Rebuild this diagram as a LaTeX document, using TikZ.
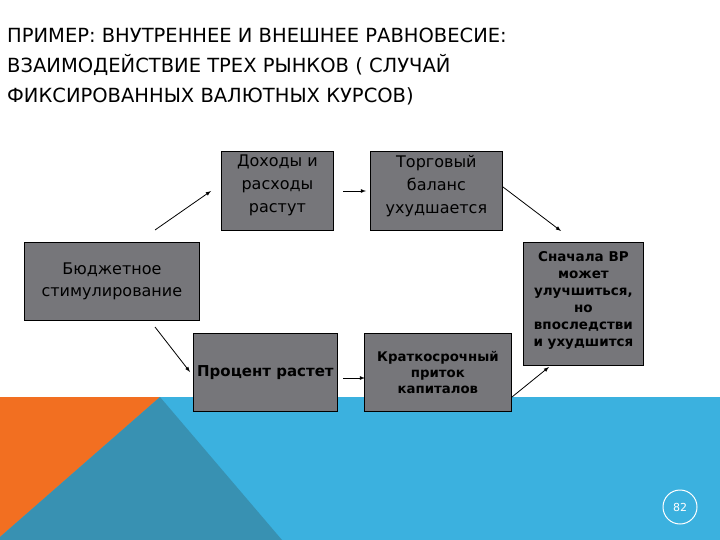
\documentclass[tikz,border=0pt]{standalone}
\usepackage{fontspec}
\setmainfont{DejaVu Sans}
\begin{document}
\begin{tikzpicture}[x=1pt,y=-1pt,
  box/.style={draw=black,fill=boxgray,line width=0.8pt,align=center,inner sep=2pt},
  arr/.style={-latex,line width=0.8pt}]
\definecolor{boxgray}{HTML}{76767A}
\definecolor{orng}{HTML}{F26F21}
\definecolor{teal}{HTML}{3891B2}
\definecolor{skyb}{HTML}{3BB1DF}
\useasboundingbox (0,0) rectangle (720,540);
\fill[white] (0,0) rectangle (720,540);
\fill[skyb] (0,397) rectangle (720,540);
\fill[orng] (0,397) -- (160,397) -- (0,537) -- cycle;
\fill[teal] (160,397) -- (282,540) -- (0,540) -- (0,537) -- cycle;
\node[anchor=north west,align=left,font=\fontsize{19.5}{30}\selectfont,inner sep=0] (title) at (7,28)
 {ПРИМЕР: ВНУТРЕННЕЕ И ВНЕШНЕЕ РАВНОВЕСИЕ:\\ВЗАИМОДЕЙСТВИЕ ТРЕХ РЫНКОВ ( СЛУЧАЙ\\ФИКСИРОВАННЫХ ВАЛЮТНЫХ КУРСОВ)};
\node[box,minimum width=112,minimum height=79,anchor=north west] (inc) at (221,151) {};
\node[anchor=north,align=center,font=\fontsize{16}{23}\selectfont,inner sep=0] (inct) at ([yshift=-4]inc.north) {Доходы и\\расходы\\растут};
\node[box,minimum width=132,minimum height=79,anchor=north west] (tb) at (370,151) {};
\node[anchor=north,align=center,font=\fontsize{16}{23}\selectfont,inner sep=0] (tbt) at ([yshift=-4]tb.north) {Торговый\\баланс\\ухудшается};
\node[box,minimum width=175,minimum height=78,anchor=north west,font=\fontsize{16}{22}\selectfont] (bud) at (24,242) {Бюджетное\\стимулирование};
\node[box,minimum width=144,minimum height=78,anchor=north west,font=\bfseries\fontsize{15}{18}\selectfont,inner sep=0] (rate) at (193,333) {Процент растет};
\node[box,minimum width=147,minimum height=78,anchor=north west,font=\bfseries\fontsize{13.3}{16}\selectfont] (cap) at (364,333) {Краткосрочный\\приток\\капиталов};
\node[box,minimum width=120,minimum height=123,anchor=north west] (bp) at (523,242) {};
\node[anchor=north,align=center,font=\bfseries\fontsize{13.5}{17}\selectfont,inner sep=0] (bpt) at ([yshift=-9]bp.north) {Сначала ВР\\может\\улучшиться,\\но\\впоследстви\\и ухудшится};
\coordinate (a1s) at (155,230); \coordinate (a1e) at (211,191);
\draw[arr] (a1s) -- (a1e);
\coordinate (a2s) at (343,191); \coordinate (a2e) at (366,191);
\draw[arr] (a2s) -- (a2e);
\coordinate (a3s) at (503,187); \coordinate (a3e) at (561,231);
\draw[arr] (a3s) -- (a3e);
\coordinate (a4s) at (155,327); \coordinate (a4e) at (190,372);
\draw[arr] (a4s) -- (a4e);
\coordinate (a5s) at (343,378); \coordinate (a5e) at (365,378);
\draw[arr] (a5s) -- (a5e);
\coordinate (a6s) at (512,397); \coordinate (a6e) at (549,367);
\draw[arr] (a6s) -- (a6e);
\node[circle,draw=white,line width=1pt,minimum size=34,text=white,font=\fontsize{11}{13}\selectfont] (pg) at (680,507) {82};
\end{tikzpicture}
\end{document}
